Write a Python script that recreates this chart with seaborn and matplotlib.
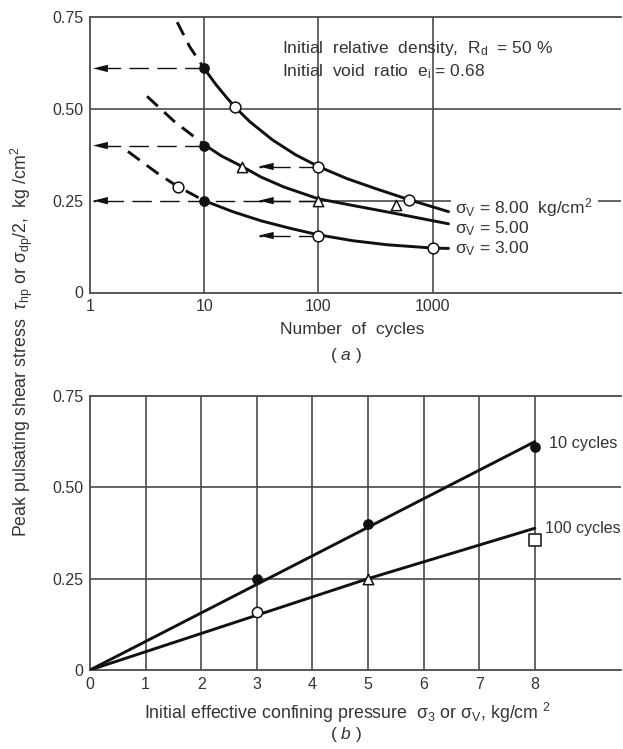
import numpy as np
import pandas as pd
import matplotlib
matplotlib.use("Agg")
import matplotlib.pyplot as plt
import seaborn as sns

# ---------------- (a) stress ratio vs number of cycles ----------------
# dashed (extrapolated) parts of the curves
cyc_8_dash = [5.8, 7.5, 10]
tau_8_dash = [0.736, 0.668, 0.61]
cyc_5_dash = [3.16, 5.5, 10]
tau_5_dash = [0.534, 0.465, 0.403]
cyc_3_dash = [2.15, 4.0, 5.9, 10]
tau_3_dash = [0.384, 0.322, 0.288, 0.25]

# solid parts of the curves
cyc_8 = [10, 12.6, 15.8, 18.7, 25.1, 39.8, 63.1, 100, 178, 316, 617, 1380]
tau_8 = [0.61, 0.567, 0.53, 0.504, 0.465, 0.415, 0.375, 0.343, 0.31, 0.283, 0.253, 0.22]
cyc_5 = [10, 14.1, 21.5, 31.6, 50.1, 100, 200, 475, 1380]
tau_5 = [0.403, 0.372, 0.343, 0.314, 0.287, 0.255, 0.237, 0.215, 0.187]
cyc_3 = [10, 17.8, 31.6, 56.2, 100, 200, 398, 1000, 1380]
tau_3 = [0.25, 0.22, 0.195, 0.175, 0.157, 0.141, 0.13, 0.121, 0.12]

# test points
dot_cyc = [10, 10, 10]
dot_tau = [0.61, 0.40, 0.25]
circ8_cyc = [18.7, 100, 617]
circ8_tau = [0.504, 0.343, 0.253]
tri5_cyc = [21.5, 100, 475]
tri5_tau = [0.343, 0.25, 0.237]
circ3_cyc = [5.9, 100, 1000]
circ3_tau = [0.288, 0.155, 0.121]

# read-off arrows: level, start cycles, arrow tip cycles
arrow_level = [0.61, 0.40, 0.25, 0.25, 0.343, 0.155]
arrow_from = [10, 10, 100, 100, 100, 100]
arrow_to = [1.06, 1.06, 1.06, 30, 30, 30]

curve_labels = ["$\\mathrm{σ_V}$ = 8.00  kg/cm$^\\mathrm{2}$",
                "$\\mathrm{σ_V}$ = 5.00",
                "$\\mathrm{σ_V}$ = 3.00"]

# ---------------- (b) stress vs confining pressure ----------------
press_10 = [3, 5, 8]
stress_10 = [0.25, 0.40, 0.61]
line10_x = [0, 8]
line10_y = [0, 0.625]
line100_x = [0, 3, 5, 8]
line100_y = [0, 0.15, 0.25, 0.388]
pt100_x = [3, 5, 8]
pt100_y = [0.158, 0.25, 0.355]
pt100_marker = ["o", "^", "s"]

x_ticks_b = [0, 1, 2, 3, 4, 5, 6, 7, 8]
y_ticks = [0, 0.25, 0.50, 0.75]
y_ticklabels = ["0", "0.25", "0.50", "0.75"]

sns.set_theme(style="white")
plt.rcParams["font.family"] = ["Liberation Sans", "DejaVu Sans"]
plt.rcParams["mathtext.fontset"] = "custom"
plt.rcParams["mathtext.rm"] = "Liberation Sans"
plt.rcParams["mathtext.it"] = "Liberation Sans:italic"
plt.rcParams["mathtext.bf"] = "Liberation Sans:bold"

TXT = "#333333"
GRID = "#4a4a4a"
INK = "#111111"
FS_TICK = 11.5
FS = 12.5

fig = plt.figure(figsize=(6.23, 7.49), dpi=100)
W, H = 623, 749


def axes_px(left, top, right, bottom):
    return fig.add_axes([left / W, 1 - bottom / H, (right - left) / W, (bottom - top) / H])


def style_axes(ax):
    for side in ("top", "bottom", "left"):
        ax.spines[side].set_color(GRID)
        ax.spines[side].set_linewidth(1.3)
    ax.spines["right"].set_visible(False)
    ax.tick_params(length=0, labelsize=FS_TICK, colors=TXT, pad=5)
    ax.set_xlabel("")
    ax.set_ylabel("")


# ---------- panel (a) ----------
ax1 = axes_px(90, 17, 621, 292.5)
ax1.set_xscale("log")
ax1.set_xlim(1, 10 ** 4.65)
ax1.set_ylim(0, 0.75)

for v in [10, 100, 1000]:
    ax1.axvline(v, color=GRID, lw=1.2, zorder=1)
ax1.axhline(0.5, color=GRID, lw=1.2, zorder=1)
ax1.hlines(0.25, 100, 1450, color=GRID, lw=1.2, zorder=1)
ax1.hlines(0.25, 28000, 10 ** 4.65, color=GRID, lw=1.2, zorder=1)

for cx, ty in [(cyc_8_dash, tau_8_dash), (cyc_5_dash, tau_5_dash), (cyc_3_dash, tau_3_dash)]:
    sns.lineplot(x=cx, y=ty, ax=ax1, color=INK, lw=2.1, dashes=False,
                 linestyle=(0, (5, 3)), sort=False, estimator=None, zorder=3)
for cx, ty in [(cyc_8, tau_8), (cyc_5, tau_5), (cyc_3, tau_3)]:
    sns.lineplot(x=cx, y=ty, ax=ax1, color=INK, lw=2.1, sort=False,
                 estimator=None, zorder=3)

for lv, x0, x1 in zip(arrow_level, arrow_from, arrow_to):
    ax1.plot([x0, x1], [lv, lv], color=INK, lw=1.0, linestyle=(0, (14, 6)), zorder=2)
    ax1.annotate("", xy=(x1, lv), xytext=(x1 * 1.25, lv),
                 arrowprops=dict(arrowstyle="-|>,head_length=0.9,head_width=0.22",
                                 color=INK, lw=0, shrinkA=0, shrinkB=0), zorder=4)

sns.scatterplot(x=dot_cyc, y=dot_tau, ax=ax1, color=INK, s=45, edgecolor=INK,
                linewidth=1, zorder=5)
sns.scatterplot(x=circ8_cyc + circ3_cyc, y=circ8_tau + circ3_tau, ax=ax1,
                color="white", s=60, edgecolor=INK, linewidth=1.1, zorder=5)
sns.scatterplot(x=tri5_cyc, y=tri5_tau, ax=ax1, marker="^", color="white", s=55,
                edgecolor=INK, linewidth=1.1, zorder=5)

ax1.set_xticks([1, 10, 100, 1000])
ax1.set_xticklabels(["1", "10", "100", "1000"])
ax1.xaxis.set_minor_locator(matplotlib.ticker.NullLocator())
ax1.set_yticks(y_ticks)
ax1.set_yticklabels(y_ticklabels)
style_axes(ax1)

ax1.text(10 ** 1.684, 0.663, "Initial  relative  density,  R$_\\mathrm{d}$  = 50 %",
         fontsize=FS, color=TXT, ha="left", va="center")
ax1.text(10 ** 1.684, 0.600, "Initial  void  ratio  e$_\\mathrm{i}$ = 0.68",
         fontsize=FS, color=TXT, ha="left", va="center")
for lab, yy in zip(curve_labels, [0.231, 0.173, 0.119]):
    ax1.text(10 ** 3.2, yy, lab, fontsize=FS, color=TXT, ha="left", va="center")

# ---------- panel (b) ----------
ax2 = axes_px(90, 396, 621, 670)
ax2.set_xlim(0, 9.55)
ax2.set_ylim(0, 0.75)
for v in x_ticks_b[1:]:
    ax2.axvline(v, color=GRID, lw=1.2, zorder=1)
for v in [0.25, 0.5]:
    ax2.axhline(v, color=GRID, lw=1.2, zorder=1)

sns.lineplot(x=line10_x, y=line10_y, ax=ax2, color=INK, lw=2.1, estimator=None, zorder=3)
sns.lineplot(x=line100_x, y=line100_y, ax=ax2, color=INK, lw=2.1, estimator=None, zorder=3)
sns.scatterplot(x=press_10, y=stress_10, ax=ax2, color=INK, s=45, edgecolor=INK,
                linewidth=1, zorder=5)
for px_, py_, mk in zip(pt100_x, pt100_y, pt100_marker):
    sns.scatterplot(x=[px_], y=[py_], ax=ax2, marker=mk, color="white",
                    s=70 if mk == "s" else 55, edgecolor=INK, linewidth=1.1, zorder=5)

ax2.text(8.25, 0.62, "10 cycles", fontsize=11.8, color=TXT, ha="left", va="center")
ax2.text(8.18, 0.388, "100 cycles", fontsize=11.5, color=TXT, ha="left", va="center")

ax2.set_xticks(x_ticks_b)
ax2.set_xticklabels([str(v) for v in x_ticks_b])
ax2.set_yticks(y_ticks)
ax2.set_yticklabels(y_ticklabels)
style_axes(ax2)

# ---------- shared labels ----------
fig.text(352 / W, 1 - 330 / H, "Number  of  cycles", fontsize=FS, color=TXT,
         ha="center", va="center")
fig.text(346 / W, 1 - 356 / H, "( $\\mathit{a}$ )", fontsize=FS, color=TXT,
         ha="center", va="center")
fig.text(348 / W, 1 - 713 / H,
         "Initial effective confining pressure  $\\mathrm{σ_3}$ or $\\mathrm{σ_V}$, kg/cm $^\\mathrm{2}$",
         fontsize=12.8, color=TXT, ha="center", va="center")
fig.text(346 / W, 1 - 734 / H, "( $\\mathit{b}$ )", fontsize=FS, color=TXT,
         ha="center", va="center")
fig.text(22 / W, 1 - 342 / H,
         "Peak pulsating shear stress  $\\mathit{τ}_\\mathrm{hp}$ or $\\mathrm{σ_{dp}}$/2,  kg /cm$^\\mathrm{2}$",
         fontsize=12.8, color=TXT, ha="center", va="center", rotation=90)

fig.savefig("out.png", dpi=100, facecolor="white")
